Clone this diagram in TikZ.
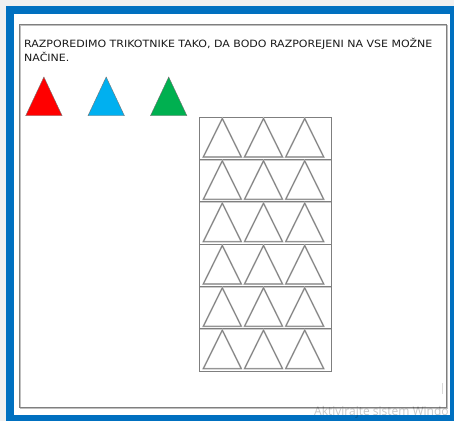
\documentclass[tikz,border=0pt]{standalone}
\usepackage{fontspec}
\setmainfont{DejaVu Sans}
\newfontfamily\taskfont[FakeStretch=1.1]{DejaVu Sans}
\newfontfamily\wmfont{Open Sans}
\definecolor{bggray}{HTML}{F0F0F0}
\definecolor{frameblue}{HTML}{0070C0}
\definecolor{tred}{HTML}{FF0000}
\definecolor{tblue}{HTML}{00B0F0}
\definecolor{tgreen}{HTML}{00B050}
\definecolor{linegray}{HTML}{7F7F7F}
\tikzset{
  panel/.style={draw=linegray, line width=0.9pt},
  panelshadow/.style={draw=black!25, line width=1pt},
  colortri/.style={draw=black!55, line width=0.4pt},
  outtri/.style={draw=linegray, line width=0.8pt, line join=miter},
  outtrishadow/.style={draw=black!25, line width=1.6pt},
  gridbox/.style={draw=linegray, line width=0.8pt},
  rowline/.style={draw=linegray, line width=0.8pt},
  rowshadow/.style={draw=black!20, line width=1.2pt},
  task/.style={anchor=base west, inner sep=0pt, font=\taskfont\fontsize{10}{14.7}\selectfont, text=black!90},
  watermark/.style={anchor=base west, inner sep=0pt, font=\wmfont\fontsize{12}{14}\selectfont, text=black, opacity=0.22}
}
\begin{document}
\begin{tikzpicture}[x=1pt,y=-1pt]
\useasboundingbox (0,0) rectangle (454,421);
\fill[bggray] (0,0) rectangle (454,421);
\fill[frameblue] (6,6) rectangle (454,421);
\fill[white] (14,14) rectangle (450,415);
% panel
\draw[panelshadow] (20.2,25.2) rectangle (447.2,408.2);
\draw[panel] (19,24) rectangle (446,407);
% task text
\node[task] (task1) at (24,47) {RAZPOREDIMO TRIKOTNIKE TAKO, DA BODO RAZPOREJENI NA VSE MOŽNE};
\node[task] (task2) at (24,61.7) {NAČINE.};
% coloured triangles
\foreach \x/\c in {25.7/tred, 88/tblue, 150.5/tgreen}{
  \filldraw[colortri, fill=\c] (\x,115.7) -- (\x+18.2,77) -- (\x+36.4,115.7) -- cycle;
}
% grid
\foreach \r in {1,...,5}{
  \draw[rowshadow] (199,117+42.33*\r+0.9) -- (331,117+42.33*\r+0.9);
  \draw[rowline] (199,117+42.33*\r) -- (331,117+42.33*\r);
}
\draw[gridbox] (199,117) rectangle (331,371);
\foreach \r in {0,...,5}{
  \foreach \c in {0,1,2}{
    \pgfmathsetmacro{\lx}{203.3+41.2*\c}
    \pgfmathsetmacro{\ty}{118.5+42.33*\r}
    \draw[outtrishadow] (\lx,\ty+38.5) -- (\lx+19,\ty) -- (\lx+38,\ty+38.5) -- cycle;
    \draw[outtri] (\lx,\ty+38.5) -- (\lx+19,\ty) -- (\lx+38,\ty+38.5) -- cycle;
  }
}
% faint artefacts
\draw[black!15, line width=0.8pt] (442,383) -- (442,394);
\node[watermark] (wm) at (314,415) {Aktivirajte sistem Windo};
\end{tikzpicture}
\end{document}
